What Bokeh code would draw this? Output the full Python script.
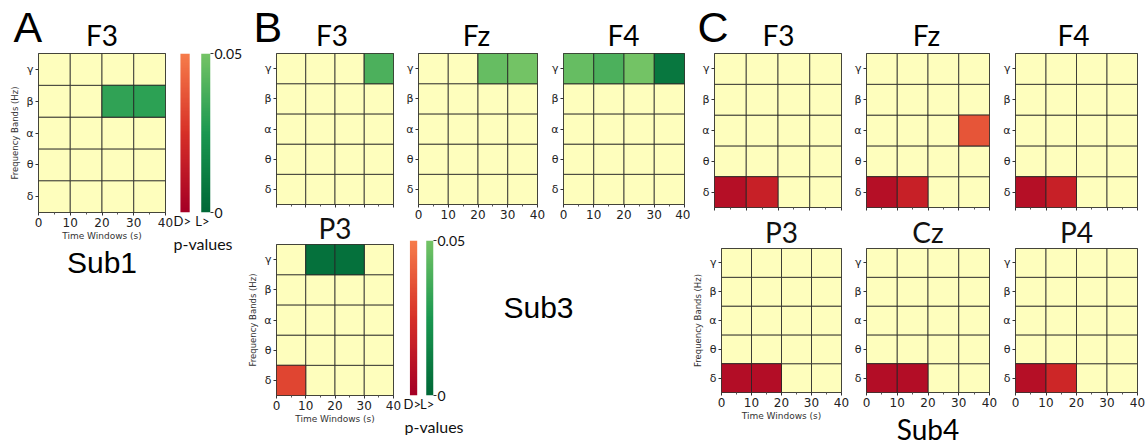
import numpy as np
from bokeh.plotting import figure
from bokeh.layouts import row, column
from bokeh.core.properties import value
from bokeh.models import (ColumnDataSource, FixedTicker, LinearColorMapper,
                          NumeralTickFormatter, Range1d, Title)
from bokeh.embed import file_html
from bokeh.resources import INLINE

# ---------------- data ----------------
BANDS = ["δ", "θ", "α", "β", "γ"]          # bottom to top
WINDOW_STARTS = [0, 10, 20, 30]             # 10 s time windows
WINDOW_TICKS = [0, 10, 20, 30, 40]
P_MAX = 0.05

sub1_electrodes = ["F3"]
sub3_electrodes = ["F3", "Fz", "F4", "P3"]
sub4_electrodes = ["F3", "Fz", "F4", "P3", "Cz", "P4"]

# significant cells (all other cells are non-significant)
sig_subject = ["Sub1", "Sub1",
               "Sub3", "Sub3", "Sub3", "Sub3", "Sub3", "Sub3", "Sub3", "Sub3", "Sub3", "Sub3",
               "Sub4", "Sub4", "Sub4", "Sub4", "Sub4", "Sub4", "Sub4", "Sub4", "Sub4", "Sub4",
               "Sub4", "Sub4", "Sub4"]
sig_electrode = ["F3", "F3",
                 "F3", "Fz", "Fz", "F4", "F4", "F4", "F4", "P3", "P3", "P3",
                 "F3", "F3", "Fz", "Fz", "Fz", "F4", "F4", "P3", "P3", "Cz",
                 "Cz", "P4", "P4"]
sig_band = ["β", "β",
            "γ", "γ", "γ", "γ", "γ", "γ", "γ", "γ", "γ", "δ",
            "δ", "δ", "δ", "δ", "α", "δ", "δ", "δ", "δ", "δ",
            "δ", "δ", "δ"]
sig_window = [20, 30,
              30, 20, 30, 0, 10, 20, 30, 10, 20, 0,
              0, 10, 0, 10, 30, 0, 10, 0, 10, 0,
              10, 0, 10]
sig_direction = ["L>", "L>",
                 "L>", "L>", "L>", "L>", "L>", "L>", "L>", "L>", "L>", "D>",
                 "D>", "D>", "D>", "D>", "D>", "D>", "D>", "D>", "D>", "D>",
                 "D>", "D>", "D>"]
sig_p = [0.031, 0.030,
         0.039, 0.046, 0.050, 0.046, 0.039, 0.050, 0.008, 0.005, 0.005, 0.032,
         0.008, 0.017, 0.008, 0.017, 0.037, 0.008, 0.017, 0.007, 0.007, 0.007,
         0.007, 0.008, 0.020]

# ---------------- styles ----------------
YELLOW = "#fefebd"
CELL_LINE = "#262626"
RED_STOPS = ["#a50026", "#d73027", "#f67b4a"]
GREEN_STOPS = ["#006837", "#1a9850", "#73c365"]
TICK_FONT = "DejaVu Sans"
TITLE_FONT = "Lato"
LETTER_FONT = "Liberation Sans"


def blend(stops, n=96):
    rgb = [tuple(int(s[i:i + 2], 16) for i in (1, 3, 5)) for s in stops]
    out = []
    for k in range(n):
        t = k / (n - 1) * (len(rgb) - 1)
        j = min(int(t), len(rgb) - 2)
        f = t - j
        c = [round(rgb[j][m] + (rgb[j + 1][m] - rgb[j][m]) * f) for m in range(3)]
        out.append("#%02x%02x%02x" % tuple(c))
    return out


red_mapper = LinearColorMapper(palette=blend(RED_STOPS), low=0, high=P_MAX)
green_mapper = LinearColorMapper(palette=blend(GREEN_STOPS), low=0, high=P_MAX)


def base_fig(w, h, bl, br, bt, bb, **kw):
    return figure(width=w, height=h, min_border_left=bl, min_border_right=br,
                  min_border_top=bt, min_border_bottom=bb,
                  toolbar_location=None, output_backend="svg",
                  background_fill_color="white", border_fill_color="white", **kw)


def heatmap(subject, electrode, w, h, bl, br, bt, bb, title=True,
            xlabels=True, ylabel=False, xlabel=False):
    p = base_fig(w, h, bl, br, bt, bb, x_range=Range1d(0, 40), y_range=Range1d(-0.5, 4.5))
    xs = [w0 + 5 for b in range(len(BANDS)) for w0 in WINDOW_STARTS]
    ys = [b for b in range(len(BANDS)) for w0 in WINDOW_STARTS]
    p.rect("x", "y", width=10, height=1, source=ColumnDataSource(dict(x=xs, y=ys)),
           fill_color=YELLOW, line_color=CELL_LINE, line_alpha=0.8, line_width=1)
    idx = [i for i in range(len(sig_p))
           if sig_subject[i] == subject and sig_electrode[i] == electrode]
    for direction, mapper in (("L>", green_mapper), ("D>", red_mapper)):
        ii = [i for i in idx if sig_direction[i] == direction]
        if not ii:
            continue
        src = ColumnDataSource(dict(x=[sig_window[i] + 5 for i in ii],
                                    y=[BANDS.index(sig_band[i]) for i in ii],
                                    p=[sig_p[i] for i in ii]))
        p.rect("x", "y", width=10, height=1, source=src,
               fill_color={"field": "p", "transform": mapper},
               line_color=CELL_LINE, line_alpha=0.8, line_width=1)

    p.grid.visible = False
    p.outline_line_color = "#222222"
    p.outline_line_width = 1
    if title:
        p.title.text = electrode
        p.title.text_font = TITLE_FONT
        p.title.text_font_size = "28px"
        p.title.text_font_style = "normal"
        p.title.align = "center"
        p.title.standoff = 0
        p.title.text_color = "#111111"

    xa = p.xaxis[0]
    xa.ticker = FixedTicker(ticks=WINDOW_TICKS, minor_ticks=[5, 15, 25, 35])
    xa.axis_line_color = None
    xa.major_tick_out = 3
    xa.major_tick_in = 0
    xa.minor_tick_out = 2
    xa.minor_tick_in = 0
    xa.major_tick_line_color = "#333333"
    xa.minor_tick_line_color = "#555555"
    xa.major_label_text_font = TICK_FONT
    if xlabels:
        xa.major_label_text_font_size = "12px"
        xa.major_label_text_color = "#222222"
        xa.major_label_standoff = 2
    else:
        xa.major_label_text_font_size = "0px"
        xa.major_label_text_color = None
        xa.major_label_standoff = 0
    if xlabel:
        xa.axis_label = "Time Windows (s)"
        xa.axis_label_text_font = TICK_FONT
        xa.axis_label_text_font_size = "9px"
        xa.axis_label_text_font_style = "normal"
        xa.axis_label_text_color = "#333333"
        xa.axis_label_standoff = 1

    ya = p.yaxis[0]
    ya.ticker = FixedTicker(ticks=list(range(len(BANDS))))
    ya.major_label_overrides = {i: b for i, b in enumerate(BANDS)}
    ya.axis_line_color = None
    ya.major_tick_out = 3
    ya.major_tick_in = 0
    ya.minor_tick_line_color = None
    ya.major_tick_line_color = "#333333"
    ya.major_label_text_font = TICK_FONT
    ya.major_label_text_font_size = "11px"
    ya.major_label_text_color = "#222222"
    ya.major_label_standoff = 2
    if ylabel:
        ya.axis_label = "Frequency Bands (Hz)"
        ya.axis_label_text_font = TICK_FONT
        ya.axis_label_text_font_size = "8.5px"
        ya.axis_label_text_font_style = "normal"
        ya.axis_label_text_color = "#333333"
        ya.axis_label_standoff = 3
    return p


def colorbar_fig(w, h, bl, br, bt, bb):
    p = base_fig(w, h, bl, br, bt, bb, x_range=Range1d(0, 32), y_range=Range1d(0, P_MAX),
                 y_axis_location="right")
    grad = np.linspace(0, P_MAX, 160).reshape(160, 1)
    p.image(image=[grad], x=6, y=0, dw=8, dh=P_MAX, color_mapper=red_mapper)
    p.image(image=[grad], x=24, y=0, dw=8, dh=P_MAX, color_mapper=green_mapper)
    p.grid.visible = False
    p.outline_line_color = None

    xa = p.xaxis[0]
    xa.ticker = FixedTicker(ticks=[7, 25], minor_ticks=[])
    xa.major_label_overrides = {7: "D>", 25: "L>"}
    xa.axis_line_color = None
    xa.major_tick_line_color = None
    xa.minor_tick_line_color = None
    xa.major_tick_out = 0
    xa.major_label_standoff = 0
    xa.major_label_text_font = TITLE_FONT
    xa.major_label_text_font_size = "13px"
    xa.major_label_text_color = "#111111"
    p.add_layout(Title(text="p-values", align="left", text_font=TITLE_FONT,
                       text_font_size="16px", text_font_style="normal",
                       text_color="#111111", standoff=0), "below")

    ya = p.yaxis[0]
    ya.ticker = FixedTicker(ticks=[0, P_MAX], minor_ticks=[])
    ya.formatter = NumeralTickFormatter(format="0.[00]")
    ya.axis_line_color = None
    ya.major_tick_out = 3
    ya.major_tick_in = 0
    ya.major_tick_line_color = "#333333"
    ya.minor_tick_line_color = None
    ya.major_label_standoff = 1
    ya.major_label_text_font = TITLE_FONT
    ya.major_label_text_font_size = "14px"
    ya.major_label_text_color = "#111111"
    return p


def text_strip(w, h, bt, bb, texts, xs, ys, sizes, fonts, aligns):
    """Blank figure that only carries panel letters / titles (text glyphs)."""
    p = base_fig(w, h, 0, 0, bt, bb, x_range=Range1d(0, w), y_range=Range1d(0, h - bt - bb),
                 x_axis_location=None, y_axis_location=None)
    p.grid.visible = False
    p.outline_line_color = None
    for t, x, y, s, f, a in zip(texts, xs, ys, sizes, fonts, aligns):
        p.text(x=[x], y=[y], text=[t], text_font=value(f), text_font_size=value(s),
               text_align=a, text_baseline="middle", text_color="#000000")
    return p


def sub_title(p, text, size, font):
    p.add_layout(Title(text=text, align="center", text_font=font, text_font_size=size,
                       text_font_style="normal", text_color="#000000", standoff=0), "below")


HEAD_H = 52
LETTER_Y = 26     # vertical centre of panel letters inside the header strip
TITLE_Y = 17.8    # vertical centre of electrode titles inside the header strip
LETTER_SIZE = "43px"

# ---------------- panel A (Sub1) ----------------
headA = text_strip(173, HEAD_H, 0, 0, ["A", sub1_electrodes[0]], [13, 101.5],
                   [LETTER_Y, TITLE_Y], [LETTER_SIZE, "28px"], [LETTER_FONT, TITLE_FONT],
                   ["left", "center"])
figA = heatmap("Sub1", sub1_electrodes[0], 173, 234, 38, 8, 1, 74,
               title=False, ylabel=True, xlabel=True)
sub_title(figA, "Sub1", "30px", LETTER_FONT)
cbA = colorbar_fig(72, 286, 0, 32, 53, 74)
colA = row(column(headA, row(figA)), cbA)

# ---------------- header of panels B and C ----------------
head_text = ["B", sub3_electrodes[0], sub3_electrodes[1], sub3_electrodes[2],
             "C", sub4_electrodes[0], sub4_electrodes[1], sub4_electrodes[2]]
head_x = [8, 86.5, 231, 378, 452, 533, 681, 828]
head_y = [LETTER_Y, TITLE_Y, TITLE_Y, TITLE_Y, LETTER_Y, TITLE_Y, TITLE_Y, TITLE_Y]
head_size = [LETTER_SIZE, "28px", "28px", "28px", LETTER_SIZE, "28px", "28px", "28px"]
head_font = [LETTER_FONT] + [TITLE_FONT] * 3 + [LETTER_FONT] + [TITLE_FONT] * 3
head_align = ["left", "center", "center", "center", "left", "center", "center", "center"]
headBC = text_strip(900, HEAD_H, 0, 0, head_text, head_x, head_y, head_size, head_font, head_align)

# ---------------- panel B (Sub3) ----------------
bF3 = heatmap("Sub3", "F3", 158, 156, 25, 10, 1, 4, title=False, xlabels=False)
bP3 = heatmap("Sub3", "P3", 158, 222, 24, 10, 32, 35, ylabel=True, xlabel=True)
bFz = heatmap("Sub3", "Fz", 145, 172, 12, 11, 1, 20, title=False)
bF4 = heatmap("Sub3", "F4", 142, 172, 13, 6, 1, 20, title=False)
cbB = colorbar_fig(65, 211, 1, 32, 16, 40)
sub3 = text_strip(222, 211, 16, 40, ["Sub3"], [70], [88], ["30px"], [LETTER_FONT], ["center"])
colB = row(column(bF3, bP3), column(row(bFz, bF4), row(cbB, sub3)))

# ---------------- panel C (Sub4) ----------------
cF3 = heatmap("Sub4", "F3", 161, 160, 24, 10, 1, 5, title=False, xlabels=False)
cFz = heatmap("Sub4", "Fz", 149, 160, 12, 11, 1, 5, title=False, xlabels=False)
cF4 = heatmap("Sub4", "F4", 145, 160, 12, 8, 1, 5, title=False, xlabels=False)
cP3 = heatmap("Sub4", "P3", 161, 233, 24, 10, 32, 51, ylabel=True, xlabel=True)
cCz = heatmap("Sub4", "Cz", 149, 233, 12, 11, 32, 51)
sub_title(cCz, "Sub4", "28px", TITLE_FONT)
cP4 = heatmap("Sub4", "P4", 145, 233, 12, 8, 32, 51)
colC = column(row(cF3, cFz, cF4), row(cP3, cCz, cP4))

layout = row(colA, column(headBC, row(colB, colC)))

open("out.html", "w").write(file_html(layout, INLINE))
